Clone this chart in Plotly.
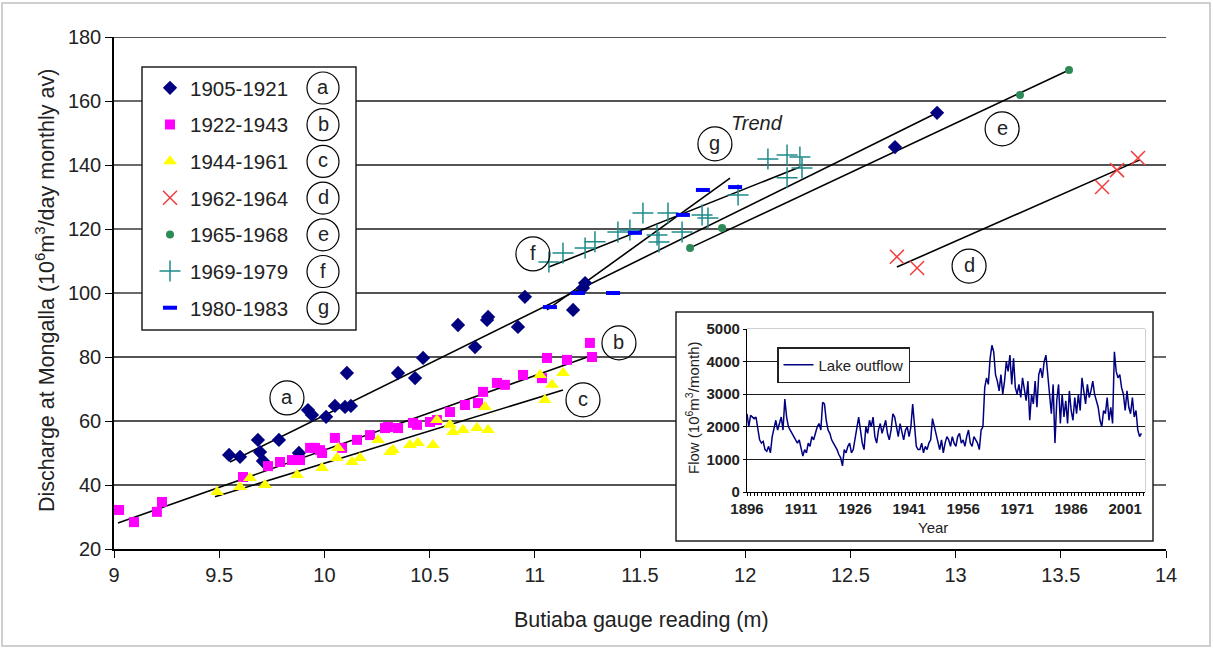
import plotly.graph_objects as go

# ---------------- Data ----------------
# Butiaba gauge reading (m) vs discharge at Mongalla
a_x = [9.547, 9.599, 9.684, 9.694, 9.708, 9.784, 9.879, 9.922, 9.941, 10.008, 10.050, 10.098,
       10.107, 10.126, 10.350, 10.431, 10.469, 10.635, 10.716, 10.773, 10.778, 10.920, 10.953,
       11.182, 11.229, 11.239, 12.712, 12.912]
a_y = [49.4, 48.8, 54.1, 50.3, 47.5, 54.1, 50.0, 63.4, 61.9, 61.3, 64.7, 64.4,
       75.0, 64.7, 75.0, 73.4, 79.7, 90.0, 83.1, 91.6, 92.5, 89.4, 98.8,
       94.7, 101.6, 103.1, 145.6, 156.3]

b_x = [9.024, 9.095, 9.204, 9.228, 9.613, 9.732, 9.789, 9.846, 9.884, 9.932, 9.955, 9.979,
       9.989, 10.050, 10.084, 10.155, 10.217, 10.288, 10.302, 10.350, 10.421, 10.440, 10.502,
       10.535, 10.597, 10.668, 10.730, 10.754, 10.820, 10.858, 10.944, 11.034, 11.058, 11.153,
       11.262, 11.272]
b_y = [32.2, 28.4, 31.6, 34.7, 42.5, 45.9, 47.2, 47.8, 47.8, 51.6, 51.6, 50.9,
       50.0, 54.7, 51.6, 54.1, 55.6, 57.8, 58.1, 57.8, 59.4, 58.8, 59.7,
       60.3, 62.8, 65.0, 65.6, 69.1, 71.9, 71.3, 74.4, 73.4, 79.7, 79.1,
       84.4, 80.0]

c_x = [9.490, 9.599, 9.646, 9.718, 9.870, 9.989, 10.065, 10.060, 10.131, 10.169, 10.255,
       10.312, 10.326, 10.407, 10.445, 10.516, 10.535, 10.597, 10.611, 10.659, 10.725, 10.778,
       10.763, 11.025, 11.048, 11.082, 11.134]
c_y = [37.8, 39.4, 42.2, 40.0, 43.1, 45.3, 51.6, 48.4, 47.2, 48.4, 54.1,
       50.3, 50.9, 52.5, 53.1, 52.5, 60.3, 58.8, 56.6, 57.2, 57.8, 57.2,
       64.4, 74.4, 66.6, 71.3, 75.0]

d_x = [12.721, 12.817, 13.696, 13.767, 13.867]
d_y = [111.3, 107.8, 133.1, 138.4, 142.2]

e_x = [11.738, 11.890, 13.306, 13.539]
e_y = [114.1, 120.3, 161.9, 169.7]

f_x = [11.067, 11.134, 11.239, 11.286, 11.395, 11.452, 11.514, 11.581, 11.590, 11.633,
       11.700, 11.795, 11.823, 11.966, 12.108, 12.199, 12.260, 12.199, 12.270]
f_y = [109.7, 112.5, 114.1, 116.0, 119.1, 119.7, 125.0, 118.1, 115.9, 125.0,
       119.1, 124.4, 123.4, 130.6, 141.9, 143.1, 142.5, 136.0, 139.1]

g_x = [11.072, 11.205, 11.372, 11.476, 11.704, 11.799, 11.952]
g_y = [95.6, 100.0, 100.0, 118.8, 124.4, 132.2, 133.1]

series_names = ["1905-1921", "1922-1943", "1944-1961", "1962-1964",
                "1965-1968", "1969-1979", "1980-1983"]
series_letters = ["a", "b", "c", "d", "e", "f", "g"]

# Fitted trend lines (end points)
trend_a_x = [9.551, 12.912]; trend_a_y = [47.2, 156.3]
trend_b_x = [9.019, 11.277]; trend_b_y = [28.1, 80.6]
trend_c_x = [9.480, 11.134]; trend_c_y = [36.3, 69.7]
trend_d_x = [12.721, 13.876]; trend_d_y = [108.1, 141.6]
trend_e_x = [11.738, 13.539]; trend_e_y = [114.1, 169.7]
trend_f_x = [11.067, 12.260]; trend_f_y = [108.1, 139.4]
trend_g_x = [11.058, 11.928]; trend_g_y = [94.7, 135.9]

# Circled label positions on the main chart
label_x = [9.822, 11.400, 11.229, 13.064, 13.221, 10.991, 11.856]
label_y = [67.2, 84.4, 66.6, 108.4, 151.3, 112.2, 146.6]

# Inset: Lake outflow (10^6 m3/month), two readings per year (first / second half)
outflow_years = list(range(1896, 2006))
outflow_h1 = [2400, 2350, 2250, 2000, 1500, 1300, 1400, 1700, 2200, 2100,
              1900, 2300, 1900, 1700, 1500, 1300, 1300, 1500, 1700, 1800,
              2100, 2750, 2200, 1800, 1500, 1300, 1050, 1300, 1400, 1200,
              1600, 2300, 1500, 2000, 2200, 2300, 1500, 2100, 2000, 1800,
              1900, 2300, 1700, 1800, 1900, 1700, 2700, 1400, 1300, 1200,
              1300, 1600, 2000, 1500, 1600, 1500, 1600, 1700, 1400, 1800,
              1600, 1700, 1500, 1700, 1500, 1900, 3200, 3300, 4500, 3600,
              3100, 3000, 4000, 4200, 4100, 3000, 2900, 3100, 3400, 3000,
              3400, 3600, 3500, 4200, 3000, 3300, 2800, 2100, 2300, 2100,
              2500, 2900, 3000, 3500, 2700, 2900, 3400, 2800, 2200, 2500,
              2900, 2600, 4300, 3500, 3200, 2500, 2600, 2900, 2500, 1700]
outflow_h2 = [2000, 2300, 2300, 1600, 1550, 1250, 1200, 2000, 1900, 2300,
              2850, 2000, 1800, 1600, 1600, 1100, 1200, 1400, 1600, 2000,
              1900, 2700, 1900, 1600, 1400, 1150, 800, 1200, 1500, 1300,
              2000, 1900, 1300, 1800, 2000, 1700, 1900, 1800, 2200, 1600,
              2400, 2000, 2100, 1600, 2000, 2000, 1900, 1300, 1500, 1400,
              1500, 2250, 1800, 1300, 1200, 1700, 1400, 1500, 1700, 1500,
              1400, 1900, 1400, 1600, 1300, 2000, 3500, 4100, 4300, 3400,
              3600, 3400, 3700, 3300, 3200, 3300, 3500, 2800, 2200, 2700,
              2600, 3800, 4000, 3700, 2400, 1500, 3300, 3000, 2800, 3100,
              2200, 2400, 2500, 3100, 3300, 3100, 3000, 2600, 2000, 2400,
              2200, 2100, 3700, 3600, 3000, 3100, 2400, 2300, 1900, 1800]

y_ticks = [20, 40, 60, 80, 100, 120, 140, 160, 180]
inset_ticks = [1896, 1911, 1926, 1941, 1956, 1971, 1986, 2001]

# ---------------- Styling constants ----------------
FONT = "Arial, Liberation Sans, sans-serif"
TXT = "#222"
W, H = 1213, 649
ML, MR, MT, MB = 114, 47, 37, 100
PW, PH = W - ML - MR, H - MT - MB


def px_x(px):
    return (px - ML) / PW


def px_y(py):
    return (H - MB - py) / PH


LEG_BOX = (px_x(142), px_x(356), px_y(330), px_y(67))
INS_BOX = (px_x(676), px_x(1153), px_y(541), px_y(312))

fig = go.Figure()

markers = [
    dict(symbol="diamond", color="#000080", size=11),
    dict(symbol="square", color="#FF00FF", size=10),
    dict(symbol="triangle-up", color="#FFFF00", size=12),
    dict(symbol="x-thin-open", color="#F03C3C", size=14, line=dict(color="#F03C3C", width=1.5)),
    dict(symbol="circle", color="#2E8B57", size=8),
    dict(symbol="cross-thin-open", color="#1F8A8A", size=15, line=dict(color="#1F8A8A", width=1.5)),
    dict(symbol="line-ew-open", color="#0000FF", size=10, line=dict(color="#0000FF", width=4)),
]
xs = [a_x, b_x, c_x, d_x, e_x, f_x, g_x]
ys = [a_y, b_y, c_y, d_y, e_y, f_y, g_y]

trends = [(trend_a_x, trend_a_y), (trend_b_x, trend_b_y), (trend_c_x, trend_c_y),
          (trend_d_x, trend_d_y), (trend_e_x, trend_e_y), (trend_f_x, trend_f_y),
          (trend_g_x, trend_g_y)]
for tx, ty in trends:
    fig.add_trace(go.Scatter(x=tx, y=ty, mode="lines", line=dict(color="black", width=1.6),
                             showlegend=False, hoverinfo="skip"))

for i in range(7):
    fig.add_trace(go.Scatter(x=xs[i], y=ys[i], mode="markers", name=series_names[i],
                             marker=markers[i], legendgroup=series_names[i], legend="legend"))

# Inset series
ox, oy = [], []
for yr, v1, v2 in zip(outflow_years, outflow_h1, outflow_h2):
    ox += [yr, yr + 0.5]
    oy += [v1, v2]
fig.add_trace(go.Scatter(x=ox, y=oy, mode="lines", name="Lake outflow",
                         line=dict(color="#000080", width=1.5),
                         xaxis="x2", yaxis="y2", legend="legend2"))

shapes = []
# outer frame
shapes.append(dict(type="rect", xref="paper", yref="paper", x0=px_x(2), x1=px_x(1210),
                   y0=px_y(646), y1=px_y(3), line=dict(color="#C0C0C0", width=1.5), layer="below"))
# main grid lines (interrupted by legend and inset boxes)
for v in y_ticks[1:]:
    yp = (v - y_ticks[0]) / (y_ticks[-1] - y_ticks[0])
    segs = [(0, 1)]
    for box in (LEG_BOX, INS_BOX):
        if box[2] <= yp <= box[3]:
            segs = [(0, box[0]), (box[1], 1)]
    for s0, s1 in segs:
        shapes.append(dict(type="line", xref="paper", yref="y", x0=s0, x1=s1, y0=v, y1=v,
                           line=dict(color="#1a1a1a", width=1.3), layer="below"))
# legend box
shapes.append(dict(type="rect", xref="paper", yref="paper", x0=LEG_BOX[0], x1=LEG_BOX[1],
                   y0=LEG_BOX[2], y1=LEG_BOX[3], line=dict(color="#222", width=1.5),
                   fillcolor="white", layer="below"))
# inset box
shapes.append(dict(type="rect", xref="paper", yref="paper", x0=INS_BOX[0], x1=INS_BOX[1],
                   y0=INS_BOX[2], y1=INS_BOX[3], line=dict(color="#222", width=1.5),
                   fillcolor="white", layer="below"))
# inset plot frame (gray)
shapes.append(dict(type="rect", xref="paper", yref="paper", x0=px_x(747), x1=px_x(1145),
                   y0=px_y(492), y1=px_y(329), line=dict(color="#A0A0A0", width=1), layer="below"))

annotations = []
# circled labels on the chart
for lx, ly, lt in zip(label_x, label_y, series_letters):
    shapes.append(dict(type="circle", xref="x", yref="y", xsizemode="pixel", ysizemode="pixel",
                       xanchor=lx, yanchor=ly, x0=-17, x1=17, y0=-17, y1=17,
                       line=dict(color="black", width=1.2), layer="above"))
    annotations.append(dict(x=lx, y=ly, xref="x", yref="y", text=lt, showarrow=False,
                            xanchor="center", yanchor="middle",
                            font=dict(size=20, color=TXT, family=FONT), yshift=1))
# circled letters in the legend
for k, lt in enumerate(series_letters):
    cy = px_y(88 + k * 36.7)
    cx = px_x(323)
    shapes.append(dict(type="circle", xref="paper", yref="paper", xsizemode="pixel",
                       ysizemode="pixel", xanchor=cx, yanchor=cy, x0=-16, x1=16, y0=-16, y1=16,
                       line=dict(color="black", width=1.2), layer="above"))
    annotations.append(dict(x=cx, y=cy, xref="paper", yref="paper", text=lt, showarrow=False,
                            xanchor="center", yanchor="middle",
                            font=dict(size=20, color=TXT, family=FONT), yshift=1))

annotations.append(dict(x=12.055, y=153.0, xref="x", yref="y", text="<i>Trend</i>",
                        xanchor="center", yanchor="middle",
                        showarrow=False, font=dict(size=20, color=TXT, family=FONT)))
# axis titles
annotations.append(dict(x=px_x(641), y=px_y(620), xref="paper", yref="paper",
                        text="Butiaba gauge reading (m)", showarrow=False,
                        xanchor="center", yanchor="middle",
                        font=dict(size=21.5, color=TXT, family=FONT)))
annotations.append(dict(x=px_x(45), y=px_y(291), xref="paper", yref="paper",
                        text="Discharge at Mongalla (10<sup>6</sup>m<sup>3</sup>/day monthly av)",
                        textangle=-90, showarrow=False, xanchor="center", yanchor="middle",
                        font=dict(size=21.5, color=TXT, family=FONT)))
annotations.append(dict(x=px_x(933), y=px_y(527), xref="paper", yref="paper", text="Year",
                        xanchor="center", yanchor="middle",
                        showarrow=False, font=dict(size=15, color=TXT, family=FONT)))
annotations.append(dict(x=px_x(692), y=px_y(408), xref="paper", yref="paper",
                        text="Flow (10<sup>6</sup>m<sup>3</sup>/month)", textangle=-90,
                        xanchor="center", yanchor="middle",
                        showarrow=False, font=dict(size=15, color=TXT, family=FONT)))

fig.update_layout(
    width=W, height=H, margin=dict(l=ML, r=MR, t=MT, b=MB),
    paper_bgcolor="white", plot_bgcolor="white",
    font=dict(family=FONT, color=TXT),
    xaxis=dict(domain=[0, 1], range=[9, 14], tick0=9, dtick=0.5, showgrid=False, zeroline=False,
               showline=True, linecolor="black", linewidth=1.5, ticks="outside", ticklen=7,
               tickcolor="black", tickfont=dict(size=20, family=FONT, color=TXT)),
    yaxis=dict(domain=[0, 1], range=[20, 180], tickvals=y_ticks, showgrid=False, zeroline=False,
               showline=True, linecolor="black", linewidth=1.5, ticks="outside", ticklen=7,
               tickcolor="black", tickfont=dict(size=20, family=FONT, color=TXT)),
    xaxis2=dict(domain=[px_x(747), px_x(1145)], anchor="y2", range=[1896, 2006.5],
                tickvals=inset_ticks, showgrid=False, zeroline=False, showline=True,
                linecolor="black", linewidth=1.2, ticks="outside", ticklen=3, tickcolor="black",
                minor=dict(tick0=1896, dtick=1, ticks="outside", ticklen=3, tickcolor="black"),
                tickfont=dict(size=15, family=FONT, color=TXT, weight="bold")),
    yaxis2=dict(domain=[px_y(492), px_y(329)], anchor="x2", range=[0, 5000], dtick=1000,
                showgrid=True, gridcolor="#1a1a1a", gridwidth=1.3, zeroline=False, showline=True,
                linecolor="black", linewidth=1.2, ticks="outside", ticklen=3, tickcolor="black",
                tickfont=dict(size=15, family=FONT, color=TXT, weight="bold")),
    legend=dict(x=px_x(150), y=px_y(68), xanchor="left", yanchor="top",
                bgcolor="rgba(0,0,0,0)", borderwidth=0, tracegroupgap=7,
                font=dict(size=20.5, family=FONT, color=TXT)),
    legend2=dict(x=px_x(777), y=px_y(347), xanchor="left", yanchor="top",
                 bgcolor="white", bordercolor="#222", borderwidth=1.5,
                 font=dict(size=15, family=FONT, color=TXT)),
    shapes=shapes, annotations=annotations,
)

fig.write_html("out.html", config={"displayModeBar": False},
               post_script="document.body.style.margin='0';document.body.style.overflow='hidden';")
